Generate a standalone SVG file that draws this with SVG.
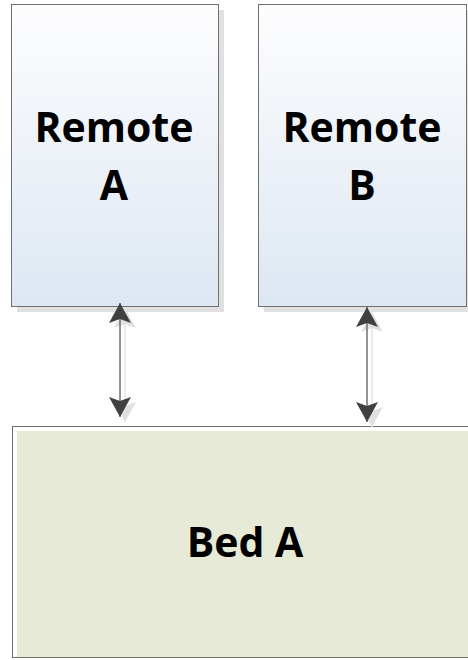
<svg xmlns="http://www.w3.org/2000/svg" width="468" height="660" viewBox="0 0 468 660">
<defs>
<linearGradient id="blueGrad" x1="0" y1="0" x2="0" y2="1">
<stop offset="0" stop-color="#fdfdfe"/>
<stop offset="1" stop-color="#dde7f2"/>
</linearGradient>
<marker id="ah" viewBox="0 0 20 22" refX="20" refY="11" markerWidth="20" markerHeight="22" markerUnits="userSpaceOnUse" orient="auto-start-reverse">
<path d="M20,11 L0,0 L4,11 L0,22 Z" fill="#404040"/>
</marker>
<marker id="ahs" viewBox="0 0 20 22" refX="20" refY="11" markerWidth="20" markerHeight="22" markerUnits="userSpaceOnUse" orient="auto-start-reverse">
<path d="M20,11 L0,0 L4,11 L0,22 Z" fill="#e0e0e0"/>
</marker>
</defs>
<style>
.shadow{fill:#e0e0e0;}
.box{fill:url(#blueGrad);stroke:#707070;stroke-width:1;}
.lbl{font-family:"Open Sans","Liberation Sans",sans-serif;font-weight:bold;font-size:41px;fill:#000;text-anchor:middle;}
.conn{stroke:#707070;stroke-width:1.5;fill:none;}
.connS{stroke:#e6e6e6;stroke-width:1.5;fill:none;}
</style>
<rect width="468" height="660" fill="#ffffff"/>
<g id="remoteA">
<rect class="shadow" x="17" y="10" width="207" height="302"/>
<rect class="box" x="11.5" y="4.5" width="207" height="302"/>
<text class="lbl" x="114" y="142">Remote</text>
<text class="lbl" x="114" y="200">A</text>
</g>
<g id="remoteB">
<rect class="shadow" x="264" y="10" width="208" height="302"/>
<rect class="box" x="258.5" y="4.5" width="208" height="302"/>
<text class="lbl" x="362" y="142">Remote</text>
<text class="lbl" x="362" y="200">B</text>
</g>
<g id="bedA">
<rect x="12.5" y="426.5" width="470" height="231" fill="#ffffff" stroke="#707070" stroke-width="1"/>
<rect x="17" y="431" width="460" height="226" fill="#e8ead8"/>
<text class="lbl" x="245" y="557">Bed A</text>
</g>
<g id="connectors">
<line class="connS" x1="125" y1="308" x2="125" y2="422" marker-start="url(#ahs)" marker-end="url(#ahs)"/>
<line class="connS" x1="372" y1="312" x2="372" y2="427" marker-start="url(#ahs)" marker-end="url(#ahs)"/>
<line class="conn" x1="120" y1="303" x2="120" y2="417" marker-start="url(#ah)" marker-end="url(#ah)"/>
<line class="conn" x1="367" y1="307" x2="367" y2="422" marker-start="url(#ah)" marker-end="url(#ah)"/>
</g>
</svg>
